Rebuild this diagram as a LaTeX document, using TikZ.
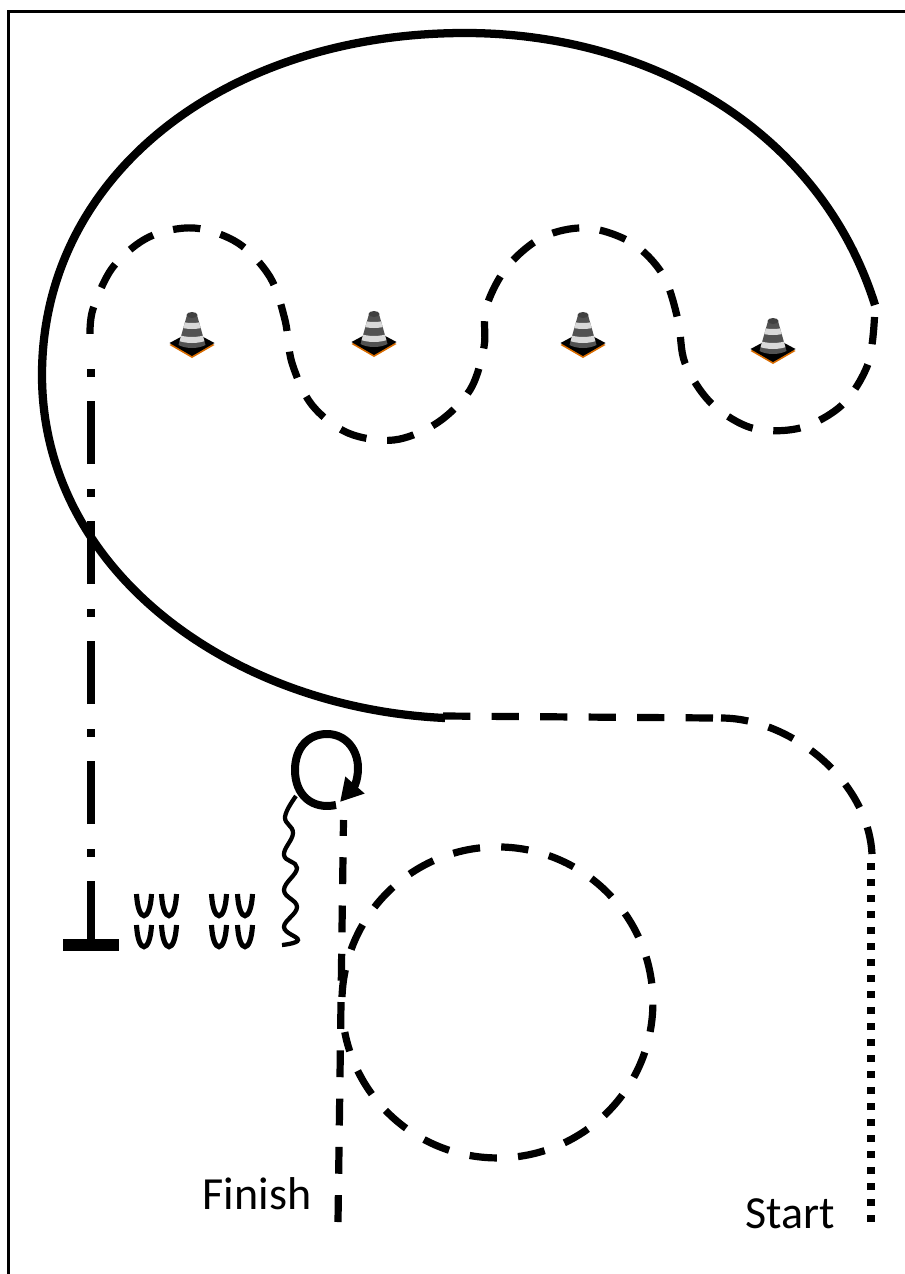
\documentclass[tikz,border=0pt]{standalone}
\usepackage{fontspec}
\setmainfont{Carlito}
\usetikzlibrary{arrows.meta}
\tikzset{
    track/.style={line width=6.2pt, black},
    trackdash/.style={line width=5.4pt, black, dash pattern=on 20.5pt off 15.9pt},
    trackdot/.style={line width=6.2pt, black, dash pattern=on 5.5pt off 6.5pt},
    trackdashdot/.style={line width=6.2pt, black, dash pattern=on 47.5pt off 18pt on 6pt off 18.5pt},
    footprint/.style={line width=3.8pt, black},
    label/.style={font=\fontsize{34.5}{40}\selectfont, inner sep=0pt},
    cone/.pic={
        \fill[orange!85!black] (-22.5,2) -- (0,15) -- (22.5,2) -- (0,-10) -- cycle;
        \fill[black] (-22.5,0) -- (0,-12) -- (22.5,0) -- (0,13) -- cycle;
        \begin{scope}
            \clip (-5,-28) -- (-13.5,2) .. controls (-6,6) and (6,6) .. (13.5,2) -- (5,-28) -- cycle;
            \fill[black!68] (-16,-32) rectangle (16,8);
            \foreach \s in {-23,-9} {
                \fill[black!15] (-16,\s) .. controls (-6,\s+4) and (6,\s+4) .. (16,\s)
                    -- (16,\s+6) .. controls (6,\s+10) and (-6,\s+10) .. (-16,\s+6) -- cycle;
            }
        \end{scope}
        \fill[black!75] (0,-28) ellipse[x radius=5.5, y radius=3];
    },
}
\begin{document}
\begin{tikzpicture}[x=0.75pt, y=-0.75pt]
    \useasboundingbox (0,0) rectangle (905,1274);
    \draw[line width=1.6pt] (905,11.5) -- (8.5,11.5) -- (8.5,1274);
    \draw[track] (875,305) .. controls (820,130) and (650,33) .. (465,33)
        .. controls (225,33) and (42,175) .. (42,375)
        .. controls (42,570) and (230,708) .. (445,718);
    \draw[trackdash, dash pattern=on 20.5pt off 15.6pt] plot[smooth, tension=0.55] coordinates {(874.5,317) (868,364) (842,405) (800,428)
        (752,428) (711,403) (685,363) (678,320) (663,275) (632,243) (587,228) (543,237) (507,267) (486,308)
        (484,347) (470,390) (437,423) (394,440) (348,433) (312,405) (292,363) (285,320) (270,277) (238,243)
        (194,228) (149,237) (113,267) (93,309) (90,335)};
    \draw[trackdash] (443,716) -- (714,718);
    \draw[trackdash] (721,718) .. controls (790,718) and (868,780) .. (872,854);
    \draw[trackdot] (871,1222) -- (871,863);
    \draw[trackdashdot] (91,944) -- (91,368);
    \draw[line width=9pt] (63,944.5) -- (119,944.5);
    \draw[trackdash] (342,997) arc[start angle=182, end angle=529, radius=155.5];
    \draw[trackdash, dash pattern=on 20.2pt off 16pt] (338,1222) -- (343.5,820);
    \draw[line width=6pt, -{Triangle[length=17pt, width=18pt]}] (336,805)
        .. controls (312,810) and (295,795) .. (295,770)
        .. controls (295,748) and (308,734) .. (327,734)
        .. controls (346,734) and (358,750) .. (358,768)
        .. controls (358,774) and (357,780) .. (355,785) -- (340,802);
    \draw[line width=3.2pt] plot[smooth, tension=0.7] coordinates {(296,796) (285,817) (293,833) (284,855) (297,868) (284,890) (297,907) (284,927) (298,940) (282,945)};
    \foreach \fx in {144,169,219,245} {
        \foreach \fy in {894,925} {
            \draw[footprint] (\fx-7.5,\fy) .. controls (\fx-6,\fy+29) and (\fx+6,\fy+29) .. (\fx+7.5,\fy);
        }
    }
    \foreach \cx/\cy in {192/343, 374/342, 583/343, 773/349} {
        \pic at (\cx,\cy) {cone};
    }
    \node[label] (finishlabel) at (257,1194) {Finish};
    \node[label] (startlabel) at (790,1214) {Start};
\end{tikzpicture}
\end{document}
